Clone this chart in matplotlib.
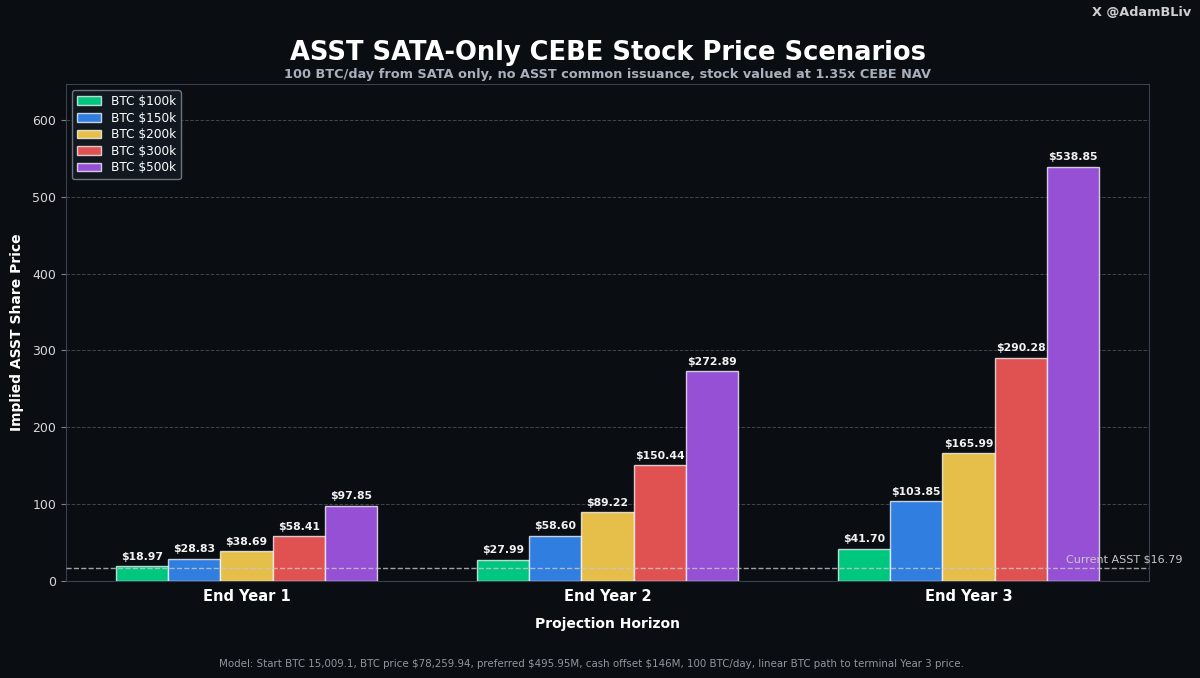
import matplotlib
matplotlib.use("Agg")
import matplotlib.pyplot as plt
import numpy as np

# data
horizons = ["End Year 1", "End Year 2", "End Year 3"]
scenarios = ["BTC $100k", "BTC $150k", "BTC $200k", "BTC $300k", "BTC $500k"]
price_100k = [18.97, 27.99, 41.70]
price_150k = [28.83, 58.60, 103.85]
price_200k = [38.69, 89.22, 165.99]
price_300k = [58.41, 150.44, 290.28]
price_500k = [97.85, 272.89, 538.85]
current_price = 16.79

series = [price_100k, price_150k, price_200k, price_300k, price_500k]
colors = ["#00c77f", "#2f7ee0", "#e6be4a", "#e05252", "#9550d6"]

bg = "#0a0d12"
plt.rcParams['font.family'] = ['DejaVu Sans']

fig = plt.figure(figsize=(12, 6.78), dpi=100, facecolor=bg)
ax = fig.add_axes([0.055, 0.143, 0.9025, 0.733])
ax.set_facecolor(bg)

x = np.arange(len(horizons))
width = 0.145
for i, (name, vals, c) in enumerate(zip(scenarios, series, colors)):
    pos = x + (i - 2) * width
    bars = ax.bar(pos, vals, width, color=c, edgecolor=(1, 1, 1, 0.75), linewidth=1.0,
                  label=name, zorder=3)
    for b, v in zip(bars, vals):
        ax.text(b.get_x() + b.get_width() / 2, v + 6, f"${v:.2f}",
                ha="center", va="bottom", fontsize=7.8, fontweight="bold",
                color="#f2f2f2", zorder=4)

ax.axhline(current_price, color="#c8c8c8", linestyle="--", linewidth=1.0,
           alpha=0.8, zorder=4)
ax.text(2.27, current_price + 5, f"Current ASST ${current_price:.2f}",
        ha="left", va="bottom", fontsize=8, color="#c8c8c8", clip_on=False)

ax.set_xlim(-0.5, 2.5)
ax.set_ylim(0, max(price_500k) * 1.2)
ax.set_xticks(x)
ax.set_xticklabels(horizons, fontsize=10.5, fontweight="bold", color="white")
ax.tick_params(axis="y", colors="#d8d8d8", labelsize=9)
ax.tick_params(axis="x", length=0, pad=6)
ax.tick_params(axis="y", color="#7a8390")
ax.grid(axis="y", color="#555c66", linestyle="--", linewidth=0.7, alpha=0.7, zorder=0)
for s in ax.spines.values():
    s.set_color("#38414d")

ax.set_ylabel("Implied ASST Share Price", fontsize=10, fontweight="bold",
              color="white", labelpad=6)
ax.set_xlabel("Projection Horizon", fontsize=10, fontweight="bold",
              color="white", labelpad=9)

leg = ax.legend(loc="upper left", fontsize=8.7, facecolor="#111820",
                edgecolor="#6b7480", labelcolor="white", framealpha=1,
                handlelength=2.0, borderpad=0.4, labelspacing=0.3)

cx = 0.055 + 0.9025 / 2
fig.text(cx, 0.922, "ASST SATA-Only CEBE Stock Price Scenarios", ha="center",
         va="center", fontsize=18.5, fontweight="bold", color="white")
fig.text(cx, 0.890, "100 BTC/day from SATA only, no ASST common issuance, stock valued at 1.35x CEBE NAV",
         ha="center", va="center", fontsize=9.3, fontweight="bold", color="#a8b0bc")
fig.text(0.993, 0.981, "X @AdamBLiv", ha="right", va="center", fontsize=9.3,
         fontweight="bold", color="#cfcfcf")
fig.text(0.493, 0.021, "Model: Start BTC 15,009.1, BTC price $78,259.94, preferred $495.95M, cash offset $146M, "
         "100 BTC/day, linear BTC path to terminal Year 3 price.",
         ha="center", va="center", fontsize=7.4, color="#9097a0")

fig.savefig("out.png", dpi=100, facecolor=bg)
